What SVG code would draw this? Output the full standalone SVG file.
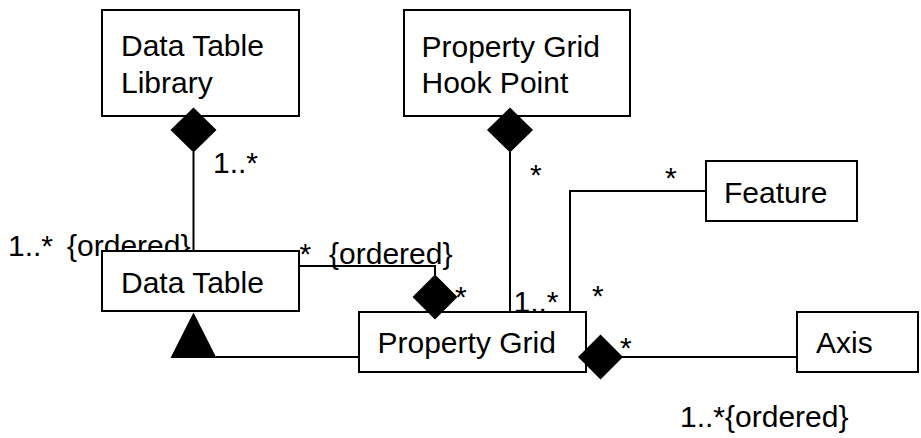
<svg xmlns="http://www.w3.org/2000/svg" width="921" height="438" viewBox="0 0 921 438">
  <style>
    text { font-family: 'Liberation Sans', Arial, sans-serif; font-size: 30px; fill: #000; }
    .box { fill: #fff; stroke: #000; stroke-width: 2; }
    .line { fill: none; stroke: #000; stroke-width: 2; }
    .solid { fill: #000; stroke: none; }
  </style>
  <rect x="0" y="0" width="921" height="438" fill="#fff"/>

  <g id="labels">
    <text x="213" y="173">1..*</text>
    <text y="256"><tspan x="8">1..*</tspan><tspan x="67">{ordered}</tspan></text>
    <text y="264"><tspan x="299.5">*</tspan><tspan x="329">{ordered}</tspan></text>
    <text x="530" y="185">*</text>
    <text x="665" y="188">*</text>
    <text x="455" y="307">*</text>
    <text x="513.5" y="312">1..*</text>
    <text x="592" y="306">*</text>
    <text x="620" y="358">*</text>
    <text x="680" y="427">1..*{ordered}</text>
  </g>

  <g id="data-table-library">
    <rect class="box" x="102" y="10" width="197" height="106"/>
    <text x="121" y="56">Data Table</text>
    <text x="121" y="93">Library</text>
  </g>
  <g id="property-grid-hook-point">
    <rect class="box" x="404" y="10" width="226" height="106"/>
    <text x="421.5" y="57">Property Grid</text>
    <text x="421.5" y="93">Hook Point</text>
  </g>
  <g id="feature">
    <rect class="box" x="706" y="161" width="151" height="60"/>
    <text x="724" y="203">Feature</text>
  </g>
  <g id="data-table">
    <rect class="box" x="102" y="251" width="197" height="60"/>
    <text x="121" y="293">Data Table</text>
  </g>
  <g id="property-grid">
    <rect class="box" x="359" y="312" width="227" height="60"/>
    <text x="377.5" y="353">Property Grid</text>
  </g>
  <g id="axis">
    <rect class="box" x="797" y="312" width="121" height="60"/>
    <text x="816" y="353">Axis</text>
  </g>

  <g id="connectors">
    <line class="line" x1="193.5" y1="152" x2="193.5" y2="251"/>
    <polygon class="solid" points="193.5,107.5 216.5,130 193.5,152.5 170.5,130"/>
    <line class="line" x1="510" y1="152" x2="510" y2="312"/>
    <polygon class="solid" points="510,107.5 533,130 510,152.5 487,130"/>
    <polyline class="line" points="299,266 435,266 435,275"/>
    <polygon class="solid" points="435,274.5 457.5,297 435,319.5 412.5,297"/>
    <polyline class="line" points="570,312 570,191 706,191"/>
    <line class="line" x1="622" y1="357" x2="797" y2="357"/>
    <polygon class="solid" points="600.5,334.5 623,357 600.5,379.5 578,357"/>
    <line class="line" x1="216" y1="357" x2="359" y2="357"/>
    <polygon class="solid" points="193.5,312.5 216.5,358 170.5,358"/>
  </g>
</svg>
